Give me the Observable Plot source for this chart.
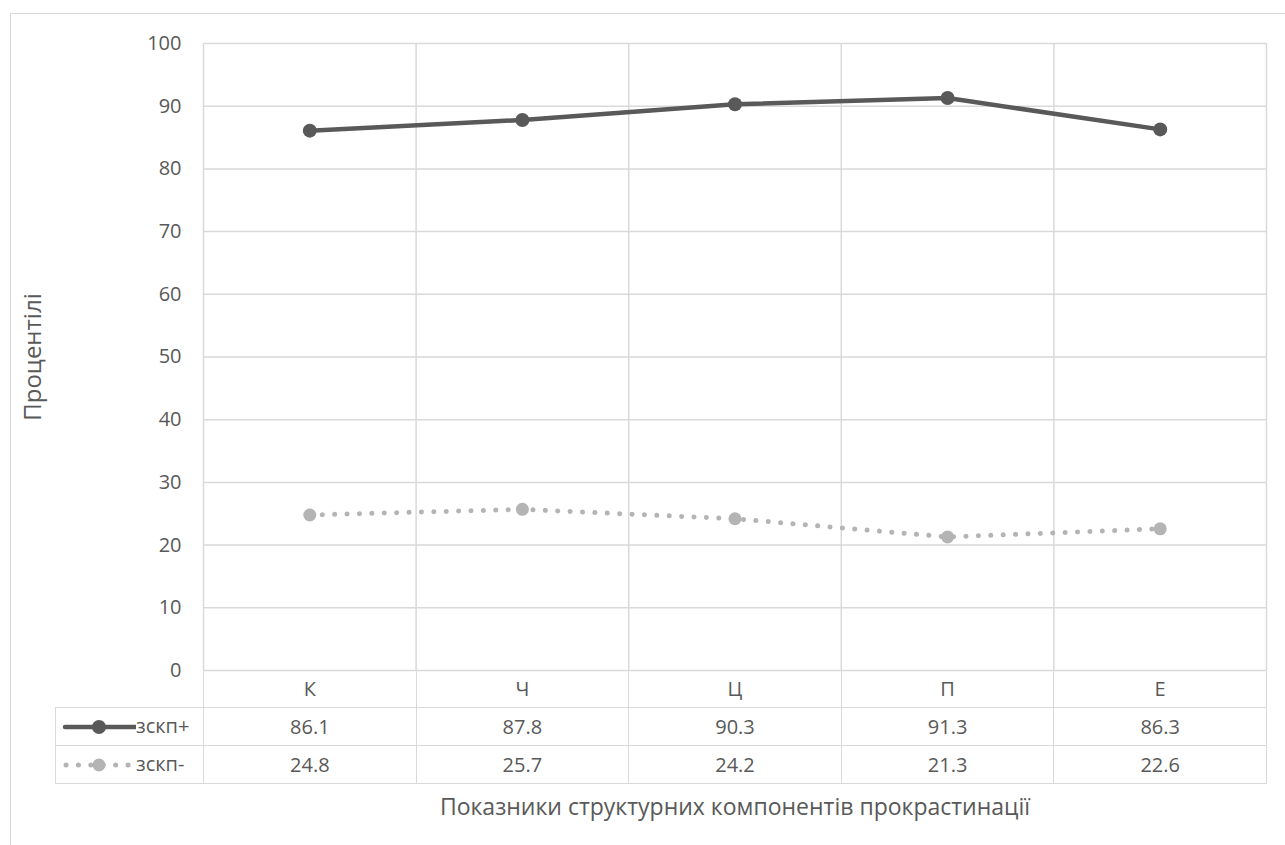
<!DOCTYPE html>
<html>
<head>
<meta charset="utf-8">
<script src="https://cdn.jsdelivr.net/npm/d3@7"></script>
<script src="https://cdn.jsdelivr.net/npm/@observablehq/plot@0.6"></script>
<style>
  html, body { margin: 0; padding: 0; background: #fff; }
  #wrap { position: relative; width: 1285px; height: 845px; overflow: hidden; font-family: "Open Sans", sans-serif; color: #595959; }
  #frame { position: absolute; left: 10px; top: 13px; width: 1300px; height: 860px; border: 1.5px solid #d9d9d9; box-sizing: border-box; }
  #chart { position: absolute; left: 0; top: 0; }
  #tbl { position: absolute; left: 55px; top: 670px; border-collapse: collapse; table-layout: fixed; font-size: 20px; color: #595959; }
  #tbl td { border: 1.5px solid #d9d9d9; text-align: center; padding: 0; line-height: 20px; }
  #tbl tr.r0 td { height: 36px; }
  #tbl tr.r1 td { height: 37px; }
  #tbl td.blank { border-top: none; border-left: none; }
  #tbl td.key { text-align: left; white-space: nowrap; }
  #tbl td.key svg { vertical-align: middle; }
</style>
</head>
<body>
<div id="wrap">
  <div id="frame"></div>
  <div id="chart"></div>
  <table id="tbl"></table>
</div>
<script>
const categories = ["К", "Ч", "Ц", "П", "Е"];
const seriesNames = ["зскп+", "зскп-"];
const plusValues = [86.1, 87.8, 90.3, 91.3, 86.3];
const minusValues = [24.8, 25.7, 24.2, 21.3, 22.6];
const yTicks = [0, 10, 20, 30, 40, 50, 60, 70, 80, 90, 100];
const yTitle = "Процентілі";
const xTitle = "Показники структурних компонентів прокрастинації";

const darkColor = "#595959";
const lightColor = "#b4b4b4";
const gridColor = "#d9d9d9";

const plusData = categories.map((c, i) => ({cat: c, i, value: plusValues[i]}));
const minusData = categories.map((c, i) => ({cat: c, i, value: minusValues[i]}));
const bounds = d3.range(categories.length + 1);

const chart = Plot.plot({
  width: 1285,
  height: 845,
  marginLeft: 203,
  marginRight: 19,
  marginTop: 43,
  marginBottom: 175,
  style: {fontFamily: "Open Sans, sans-serif", fontSize: "20px", color: darkColor, background: "transparent"},
  x: {type: "linear", domain: [0, categories.length], axis: null},
  y: {domain: [0, 100], ticks: yTicks, tickSize: 0, tickPadding: 22, label: null, tickFormat: d => String(d)},
  marks: [
    Plot.ruleY(yTicks, {y: d => d, x1: 0, x2: categories.length, stroke: gridColor, strokeWidth: 1.5}),
    Plot.ruleX(bounds, {x: d => d, y1: 0, y2: 100, stroke: gridColor, strokeWidth: 1.5}),
    Plot.line(plusData, {x: d => d.i + 0.5, y: "value", stroke: darkColor, strokeWidth: 4.5}),
    Plot.dot(plusData, {x: d => d.i + 0.5, y: "value", r: 7, fill: darkColor}),
    Plot.line(minusData, {x: d => d.i + 0.5, y: "value", stroke: lightColor, strokeWidth: 5, strokeDasharray: "0.1 12.3", strokeLinecap: "round"}),
    Plot.dot(minusData, {x: d => d.i + 0.5, y: "value", r: 6.5, fill: lightColor}),
    Plot.text([yTitle], {frameAnchor: "left", dx: -170, rotate: -90, textAnchor: "middle", lineAnchor: "middle", text: d => d, fill: darkColor, fontSize: 24}),
    Plot.text([xTitle], {frameAnchor: "bottom", dy: 137, textAnchor: "middle", lineAnchor: "middle", text: d => d, fill: darkColor, fontSize: 23})
  ]
});
document.getElementById("chart").appendChild(chart);

// data table
const colW = (1266 - 203) / categories.length;
const tbl = d3.select("#tbl");
const cg = tbl.append("colgroup");
cg.append("col").style("width", "148px");
categories.forEach(() => cg.append("col").style("width", colW + "px"));

const head = tbl.append("tr").attr("class", "r0");
head.append("td").attr("class", "blank");
categories.forEach(c => head.append("td").text(c));

function keySvg(td, dotted) {
  const svg = td.append("svg").attr("width", 80).attr("height", 20);
  if (dotted) {
    svg.append("line").attr("x1", 10).attr("x2", 76).attr("y1", 10).attr("y2", 10)
      .attr("stroke", lightColor).attr("stroke-width", 5).attr("stroke-dasharray", "0.1 12.3").attr("stroke-linecap", "round");
    svg.append("circle").attr("cx", 43).attr("cy", 10).attr("r", 6.5).attr("fill", lightColor);
  } else {
    svg.append("line").attr("x1", 9).attr("x2", 80).attr("y1", 10).attr("y2", 10)
      .attr("stroke", darkColor).attr("stroke-width", 4.5).attr("stroke-linecap", "round");
    svg.append("circle").attr("cx", 43).attr("cy", 10).attr("r", 7).attr("fill", darkColor);
  }
}

[[seriesNames[0], plusValues, false], [seriesNames[1], minusValues, true]].forEach(([name, vals, dotted]) => {
  const tr = tbl.append("tr").attr("class", "r1");
  const td = tr.append("td").attr("class", "key");
  keySvg(td, dotted);
  td.append("span").text(name);
  vals.forEach(v => tr.append("td").text(v.toFixed(1)));
});
</script>
</body>
</html>
